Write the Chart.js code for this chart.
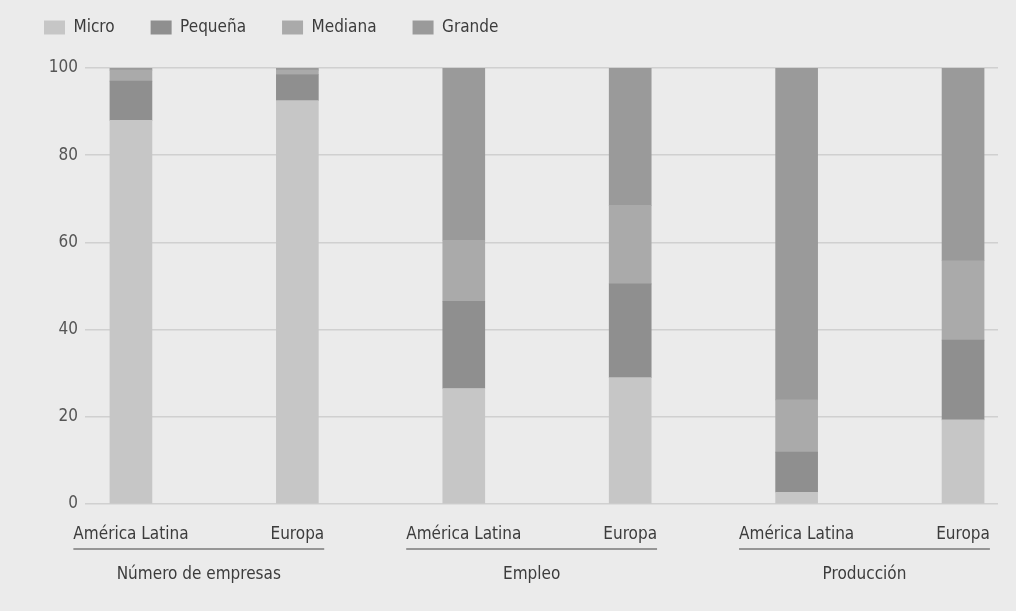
<!DOCTYPE html>
<html lang="es">
<head>
    <meta charset="UTF-8">
    <title>Micro, pequeña, mediana y grande empresa</title>
    <script src="https://cdn.jsdelivr.net/npm/chart.js@4.4.0/dist/chart.umd.min.js"></script>
    <style>
        body {
            margin: 0;
            background-color: #ebebeb; /* papel gris claro */
        }
        canvas {
            display: block;
        }
    </style>
</head>
<body>
    <canvas id="empresasChart" width="1016" height="611"></canvas>

    <script>
        // Datos (porcentajes)
        const categories = ['América Latina', 'Europa', 'América Latina', 'Europa', 'América Latina', 'Europa'];
        const groups = ['Número de empresas', 'Empleo', 'Producción'];
        const micro   = [88,   92.5, 26.5, 29,   2.7,  19.3];
        const pequena = [9,    6,    20,   21.5, 9.2,  18.3];
        const mediana = [2.5,  1,    14,   18,   12,   18.2];
        const grande  = [0.5,  0.5,  39.5, 31.5, 76.1, 44.2];
        const yTicks = [0, 20, 40, 60, 80, 100];

        const FONT = "'Liberation Sans Narrow', 'DejaVu Sans Condensed', 'Roboto', sans-serif";
        const TEXT = '#3c3c3c';

        const toPoints = arr => arr.map((v, i) => ({ x: i, y: v }));

        // Leyenda: altura fija y subida un poco (el padding grande separa los items)
        const legendSpacer = {
            id: 'legendSpacer',
            beforeInit(chart) {
                const fit = chart.legend.fit;
                chart.legend.fit = function () {
                    fit.bind(chart.legend)();
                    this.height = 68;
                };
            },
            afterLayout(chart) {
                chart.legend.top = -17;
            }
        };

        // Segunda fila de etiquetas: línea y nombre del grupo
        const groupLabels = {
            id: 'groupLabels',
            afterDraw(chart) {
                const ctx = chart.ctx;
                const x = chart.scales.x;
                const bottom = chart.chartArea.bottom;
                ctx.save();
                ctx.font = '17px ' + FONT;
                groups.forEach((g, k) => {
                    const i0 = 2 * k, i1 = 2 * k + 1;
                    const left = x.getPixelForValue(i0) - ctx.measureText(categories[i0]).width / 2;
                    const right = x.getPixelForValue(i1) + ctx.measureText(categories[i1]).width / 2;
                    ctx.strokeStyle = '#7a7a7a';
                    ctx.lineWidth = 1.5;
                    ctx.beginPath();
                    ctx.moveTo(left, bottom + 45);
                    ctx.lineTo(right, bottom + 45);
                    ctx.stroke();
                    ctx.fillStyle = TEXT;
                    ctx.textAlign = 'center';
                    ctx.textBaseline = 'middle';
                    ctx.fillText(g, (left + right) / 2, bottom + 71);
                });
                ctx.restore();
            }
        };

        const ctx = document.getElementById('empresasChart').getContext('2d');
        const empresasChart = new Chart(ctx, {
            type: 'bar',
            data: {
                datasets: [
                    { label: 'Micro',    data: toPoints(micro),   backgroundColor: '#c6c6c6' },
                    { label: 'Pequeña',  data: toPoints(pequena), backgroundColor: '#8f8f8f' },
                    { label: 'Mediana',  data: toPoints(mediana), backgroundColor: '#aaaaaa' },
                    { label: 'Grande',   data: toPoints(grande),  backgroundColor: '#9a9a9a' }
                ]
            },
            options: {
                responsive: false,
                animation: false,
                barThickness: 42,
                layout: {
                    padding: { left: 8, right: 18, top: 0, bottom: 0 }
                },
                plugins: {
                    legend: {
                        position: 'top',
                        align: 'start',
                        labels: {
                            boxWidth: 21,
                            boxHeight: 14,
                            padding: 36,
                            color: TEXT,
                            font: { family: FONT, size: 17 }
                        }
                    },
                    tooltip: { enabled: false }
                },
                scales: {
                    x: {
                        type: 'linear',
                        stacked: true,
                        offset: false,
                        min: -0.276,
                        max: 5.21,
                        afterBuildTicks: axis => {
                            axis.ticks = categories.map((c, i) => ({ value: i }));
                        },
                        afterFit: axis => { axis.height = 107; },
                        grid: { display: false },
                        border: { display: false },
                        ticks: {
                            padding: 12,
                            maxRotation: 0,
                            autoSkip: false,
                            color: TEXT,
                            font: { family: FONT, size: 17 },
                            callback: v => categories[v]
                        }
                    },
                    y: {
                        stacked: true,
                        min: 0,
                        max: 100,
                        afterBuildTicks: axis => {
                            axis.ticks = yTicks.map(v => ({ value: v }));
                        },
                        afterFit: axis => { axis.width = 77; },
                        grid: {
                            color: '#d0d0d0',
                            lineWidth: 1.5,
                            drawTicks: false
                        },
                        border: { display: false },
                        ticks: {
                            padding: 7,
                            color: '#555555',
                            font: { family: FONT, size: 17 }
                        }
                    }
                }
            },
            plugins: [legendSpacer, groupLabels]
        });
    </script>
</body>
</html>
